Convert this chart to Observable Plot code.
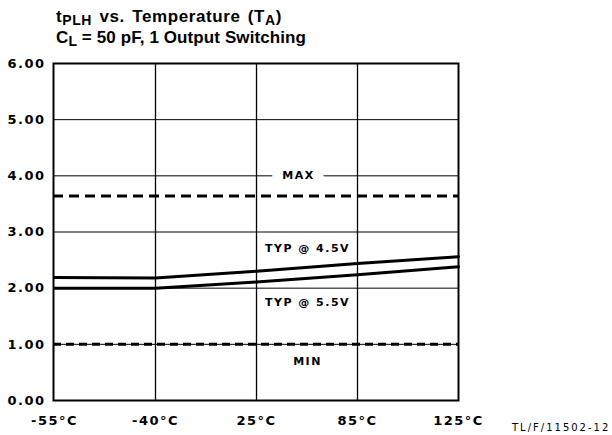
<!DOCTYPE html>
<html>
<head>
<meta charset="utf-8">
<script src="https://cdn.jsdelivr.net/npm/d3@7"></script>
<script src="https://cdn.jsdelivr.net/npm/@observablehq/plot@0.6"></script>
<style>
  html, body { margin: 0; padding: 0; background: #fff; }
  #wrap { position: relative; width: 612px; height: 435px; overflow: hidden; background: #fff; }
  .title { position: absolute; left: 56px; font-family: "Liberation Sans", Arial, sans-serif; font-weight: bold; font-size: 17px; line-height: 21px; color: #000; white-space: nowrap; }
  .title sub { font-size: 14px; vertical-align: -3px; line-height: 0; }
  .t1 { letter-spacing: 0.6px; word-spacing: 2px; }
  .t2 { letter-spacing: 0.1px; }
  #chart { position: absolute; left: 0; top: 50px; }
  .caption { position: absolute; left: 512px; top: 422px; font-family: "DejaVu Sans", sans-serif; font-size: 10px; letter-spacing: 2px; color: #000; white-space: nowrap; }
  .tick-lbl text { letter-spacing: 1.5px; }
  .ann text { letter-spacing: 1.5px; }
</style>
</head>
<body>
<div id="wrap">
  <div class="title t1" style="top:6px">t<sub>PLH</sub> vs. Temperature (T<sub>A</sub>)</div>
  <div class="title t2" style="top:27px">C<sub>L</sub> = 50 pF, 1 Output Switching</div>
  <div id="chart"></div>
  <div class="caption">TL/F/11502-12</div>
</div>
<script>
const temps = ["-55°C", "-40°C", "25°C", "85°C", "125°C"];
const typ45 = [2.19, 2.18, 2.30, 2.44, 2.56];
const typ55 = [2.00, 2.00, 2.11, 2.24, 2.38];
const maxVal = [3.64];
const minVal = [1.00];
const yTicks = [0, 1, 2, 3, 4, 5, 6];
const gridTemps = ["-40°C", "25°C", "85°C"];
const annText = ["MAX", "TYP @ 4.5V", "TYP @ 5.5V", "MIN"];
const annY = [4.0, 2.70, 1.74, 0.69];

const d45 = temps.map((t, i) => ({t, v: typ45[i]}));
const d55 = temps.map((t, i) => ({t, v: typ55[i]}));
const ann = annText.map((s, i) => ({s, y: annY[i]}));

const font = "DejaVu Sans, sans-serif";

const plot = Plot.plot({
  width: 612,
  height: 385,
  marginTop: 13,
  marginBottom: 35,
  marginLeft: 53,
  marginRight: 154,
  style: {background: "#fff", color: "#000", fontFamily: font},
  x: {type: "point", domain: temps, padding: 0},
  y: {domain: [0, 6]},
  marks: [
    Plot.ruleY(yTicks.filter(d => d > 0 && d < 6), {stroke: "#000", strokeWidth: 1}),
    Plot.ruleX(gridTemps, {stroke: "#000", strokeWidth: 1.3}),
    Plot.text(ann.slice(0, 1), {x: () => "25°C", y: "y", text: "s", dx: 42, fontSize: 11, fontWeight: "bold", fontFamily: font, fill: "#000", stroke: "#fff", strokeWidth: 22, className: "ann"}),
    Plot.text(ann.slice(1), {x: () => "25°C", y: "y", text: "s", dx: 51, fontSize: 11, fontWeight: "bold", fontFamily: font, fill: "#000", className: "ann"}),
    Plot.ruleY(maxVal, {stroke: "#000", strokeWidth: 3, strokeDasharray: "10,6"}),
    Plot.ruleY(minVal, {stroke: "#000", strokeWidth: 3, strokeDasharray: "8,5"}),
    Plot.line(d45, {x: "t", y: "v", stroke: "#000", strokeWidth: 3}),
    Plot.line(d55, {x: "t", y: "v", stroke: "#000", strokeWidth: 3}),
    Plot.frame({stroke: "#000", strokeWidth: 2}),
    Plot.axisY(yTicks, {tickSize: 0, tickPadding: 8, tickFormat: d3.format(".2f"), fontSize: 13, fontWeight: "bold", fontFamily: font, className: "tick-lbl", label: null}),
    Plot.axisX(temps, {tickSize: 0, tickPadding: 15, fontSize: 13, fontWeight: "bold", fontFamily: font, className: "tick-lbl", label: null})
  ]
});
document.getElementById("chart").appendChild(plot);
</script>
</body>
</html>
